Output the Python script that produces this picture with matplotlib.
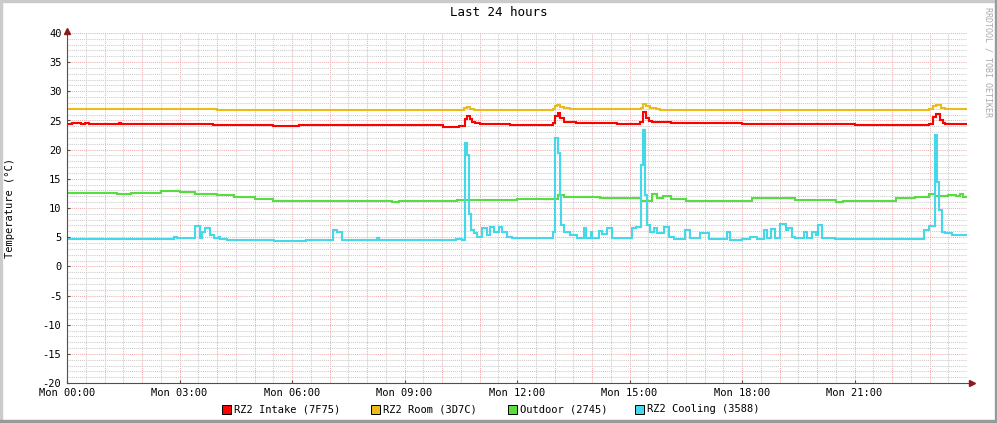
import matplotlib
matplotlib.use("Agg")
import matplotlib.pyplot as plt
from matplotlib.patches import Rectangle


WIDTH = 997
HEIGHT = 423
OUT_FILE = 'out.png'

TITLE = 'Last 24 hours'
Y_LABEL = 'Temperature (°C)'
WATERMARK = 'RRDTOOL / TOBI OETIKER'

HOUR_TICKS = [0, 3, 6, 9, 12, 15, 18, 21]
HOUR_LABELS = ['Mon 00:00', 'Mon 03:00', 'Mon 06:00', 'Mon 09:00',
               'Mon 12:00', 'Mon 15:00', 'Mon 18:00', 'Mon 21:00']
Y_TICKS = [-20, -15, -10, -5, 0, 5, 10, 15, 20, 25, 30, 35, 40]

LEGEND_NAMES = ['RZ2 Intake (7F75)', 'RZ2 Room (3D7C)', 'Outdoor (2745)', 'RZ2 Cooling (3588)']
COLORS = ['#FF0000', '#E9BC1B', '#55DE3E', '#45D8E8']

# hours since midnight / temperature (step values)
INTAKE_T = [0, 0.13, 0.36, 0.49, 0.58, 1.38, 1.44, 2.4, 3.9, 5.0, 5.5, 6.18, 6.4, 7.16, 7.33,
            10.04, 10.44, 10.6, 10.66, 10.75, 10.8, 10.89, 11.0, 11.8, 12.95, 13.02, 13.08,
            13.15, 13.24, 13.56, 14.67, 15.29, 15.36, 15.45, 15.51, 15.6, 16.1, 18.0, 21.02,
            22.98, 23.1, 23.18, 23.27, 23.36, 23.42, 23.96]
INTAKE_V = [24.46, 24.63, 24.46, 24.63, 24.46, 24.63, 24.46, 24.35, 24.29, 24.23, 24.12, 24.29,
            24.17, 24.29, 24.17, 23.95, 24.06, 25.2, 25.77, 25.2, 24.8, 24.52, 24.4, 24.29,
            24.6, 25.7, 26.23, 25.37, 24.8, 24.52, 24.4, 24.8, 26.4, 25.37, 24.97, 24.8, 24.52,
            24.4, 24.15, 24.4, 25.6, 26.06, 25.09, 24.52, 24.4, 24.4]

ROOM_T = [0, 1.25, 4.0, 5.0, 6.0, 8.5, 10.4, 10.58, 10.66, 10.75, 10.85, 12.95, 13.02, 13.07,
          13.15, 13.25, 13.4, 15.3, 15.36, 15.45, 15.55, 15.7, 15.8, 18.0, 22.98, 23.1, 23.18,
          23.3, 23.42, 23.96]
ROOM_V = [27.05, 26.9, 26.86, 26.8, 26.76, 26.8, 26.76, 27.1, 27.3, 27.0, 26.86, 26.9, 27.4,
          27.66, 27.3, 27.08, 26.9, 27.1, 27.77, 27.4, 27.2, 27.0, 26.86, 26.84, 26.9, 27.4,
          27.66, 27.2, 26.95, 26.95]

OUTDOOR_T = [0, 0.6, 0.9, 1.33, 1.7, 2.5, 3.0, 3.4, 4.0, 4.45, 5.0, 5.5, 6.0, 8.67, 8.85, 10.4,
             11.3, 12.0, 13.1, 13.25, 14.2, 15.3, 15.6, 15.73, 15.9, 16.1, 16.5, 18.27, 19.4,
             20.5, 20.7, 22.1, 22.6, 22.98, 23.15, 23.5, 23.7, 23.82, 23.9, 23.96]
OUTDOOR_V = [12.65, 12.55, 12.65, 12.46, 12.55, 12.86, 12.75, 12.46, 12.17, 11.89, 11.54, 11.26,
             11.2, 10.97, 11.2, 11.3, 11.37, 11.54, 12.23, 11.83, 11.66, 11.2, 12.4, 11.66, 12.1,
             11.54, 11.2, 11.66, 11.31, 10.97, 11.2, 11.66, 11.9, 12.34, 12.0, 12.23, 12.0, 12.4,
             11.94, 11.94]

COOLING_T = [0, 2.84, 2.93, 3.42, 3.54, 3.6, 3.69, 3.82, 3.91, 4.04, 4.09, 4.27, 5.51, 5.87,
             6.0, 6.36, 7.09, 7.2, 7.32, 8.27, 8.31, 10.36, 10.53, 10.6, 10.67, 10.73, 10.78,
             10.84, 10.93, 11.07, 11.2, 11.29, 11.38, 11.51, 11.6, 11.73, 11.87, 12.0, 12.96,
             13.02, 13.08, 13.14, 13.18, 13.24, 13.42, 13.6, 13.78, 13.84, 13.96, 14.0, 14.18,
             14.27, 14.4, 14.53, 15.07, 15.16, 15.31, 15.36, 15.42, 15.47, 15.54, 15.64, 15.73,
             15.91, 16.04, 16.18, 16.49, 16.62, 16.89, 17.11, 17.6, 17.69, 18.0, 18.22, 18.4,
             18.58, 18.67, 18.76, 18.87, 19.02, 19.16, 19.23, 19.32, 19.42, 19.64, 19.73, 19.87,
             19.97, 20.03, 20.12, 20.49, 22.84, 22.98, 23.14, 23.2, 23.26, 23.33, 23.42, 23.6,
             23.96]
COOLING_V = [4.74, 5.09, 4.8, 6.97, 4.8, 5.94, 6.51, 5.37, 4.8, 5.09, 4.63, 4.51, 4.4, 4.34,
             4.4, 4.57, 6.17, 5.83, 4.57, 4.92, 4.57, 4.69, 4.57, 21.2, 19.09, 9.0, 6.23, 5.66,
             5.09, 6.51, 5.37, 6.69, 5.94, 6.69, 5.94, 5.09, 4.92, 4.8, 5.94, 22.06, 19.37,
             12.23, 7.09, 5.94, 5.37, 4.92, 6.51, 4.92, 5.94, 4.8, 6.0, 5.49, 6.63, 4.8, 6.63,
             6.8, 17.37, 23.37, 12.23, 7.09, 5.83, 6.63, 5.66, 6.8, 5.09, 4.69, 6.23, 4.8, 5.66,
             4.63, 5.94, 4.51, 4.63, 5.09, 4.63, 6.29, 4.8, 6.4, 4.8, 7.26, 6.23, 6.63, 5.09,
             4.8, 5.83, 4.8, 5.94, 5.37, 7.09, 4.92, 4.69, 6.23, 6.91, 22.51, 14.52, 9.66, 5.94,
             5.66, 5.37, 5.37]

MINOR_GRID = '#CBCBCB'
MAJOR_GRID = '#EFB0B0'
AXIS_COLOR = '#505050'
ARROW_COLOR = '#8B1A1A'


def draw_border(fig):
    # rrdtool style shaded frame
    fig.patches.append(Rectangle((0, 1 - 2 / HEIGHT), 1, 2 / HEIGHT, transform=fig.transFigure,
                                 color='#CBCBCB', zorder=0))
    fig.patches.append(Rectangle((0, 0), 2 / WIDTH, 1, transform=fig.transFigure,
                                 color='#CBCBCB', zorder=0))
    fig.patches.append(Rectangle((0, 0), 1, 3 / HEIGHT, transform=fig.transFigure,
                                 color='#999999', zorder=0))
    fig.patches.append(Rectangle((1 - 2 / WIDTH, 0), 2 / WIDTH, 1, transform=fig.transFigure,
                                 color='#999999', zorder=0))


def main():
    plt.rcParams['font.family'] = 'DejaVu Sans Mono'
    fig = plt.figure(figsize=(WIDTH / 100, HEIGHT / 100), dpi=100, facecolor='white')
    ax = fig.add_axes([67 / WIDTH, 40 / HEIGHT, 900 / WIDTH, 350 / HEIGHT])
    ax.set_xlim(0, 24)
    ax.set_ylim(-20, 40)

    # grid
    dots = (0, (1, 1))
    for h in range(48):
        x = h / 2
        if x == 0:
            continue
        color = MAJOR_GRID if h % 2 == 0 else MINOR_GRID
        ax.axvline(x, color=color, lw=0.75, ls=dots, zorder=1)
    for v in range(-19, 41):
        color = MAJOR_GRID if v % 5 == 0 else MINOR_GRID
        ax.axhline(v, color=color, lw=0.75, ls=dots, zorder=1)

    series = [(INTAKE_T, INTAKE_V), (ROOM_T, ROOM_V), (OUTDOOR_T, OUTDOOR_V), (COOLING_T, COOLING_V)]
    for (t, v), color in zip(series, COLORS):
        ax.plot(t, v, color=color, lw=1.5, drawstyle='steps-post', zorder=3,
                solid_joinstyle='miter')

    for side in ['top', 'right']:
        ax.spines[side].set_visible(False)
    for side in ['left', 'bottom']:
        ax.spines[side].set_color(AXIS_COLOR)
        ax.spines[side].set_linewidth(0.8)
        ax.spines[side].set_zorder(4)
    ax.plot([0], [1.005], marker='^', color=ARROW_COLOR, ms=4, transform=ax.transAxes,
            clip_on=False, zorder=5)
    ax.plot([1.005], [0], marker='>', color=ARROW_COLOR, ms=4, transform=ax.transAxes,
            clip_on=False, zorder=5)
    ax.plot([0, 0], [1, 1.005], color=AXIS_COLOR, lw=0.8, transform=ax.transAxes, clip_on=False)
    ax.plot([1, 1.005], [0, 0], color=AXIS_COLOR, lw=0.8, transform=ax.transAxes, clip_on=False)

    ax.set_yticks(Y_TICKS)
    ax.set_yticklabels([str(v) for v in Y_TICKS])
    ax.set_xticks(HOUR_TICKS)
    ax.set_xticklabels(HOUR_LABELS)
    ax.tick_params(axis='both', length=2, width=0.8, color=AXIS_COLOR, direction='in',
                   labelsize=7.5, labelcolor='black')
    ax.tick_params(axis='y', pad=4)
    ax.tick_params(axis='x', pad=3.5)

    fig.text(0.5, 1 - 13 / HEIGHT, TITLE, ha='center', va='center', fontsize=9)
    fig.text(10 / WIDTH, 1 - 208 / HEIGHT, Y_LABEL, rotation=90, ha='center', va='center',
             fontsize=7.5)
    fig.text(988 / WIDTH, 1 - 7 / HEIGHT, WATERMARK, rotation=270, ha='center', va='top',
             fontsize=6, color='#AAAAAA')

    # legend along the bottom
    legend_x = [222, 371, 508, 635]
    for x, name, color in zip(legend_x, LEGEND_NAMES, COLORS):
        fig.patches.append(Rectangle((x / WIDTH, 1 - 414 / HEIGHT), 9 / WIDTH, 9 / HEIGHT,
                                     transform=fig.transFigure, facecolor=color,
                                     edgecolor='black', lw=0.7))
        fig.text((x + 12) / WIDTH, 1 - 409 / HEIGHT, name, ha='left', va='center',
                 fontsize=7.5)

    draw_border(fig)
    fig.savefig(OUT_FILE, dpi=100, facecolor='white')


if __name__ == "__main__":
    main()
